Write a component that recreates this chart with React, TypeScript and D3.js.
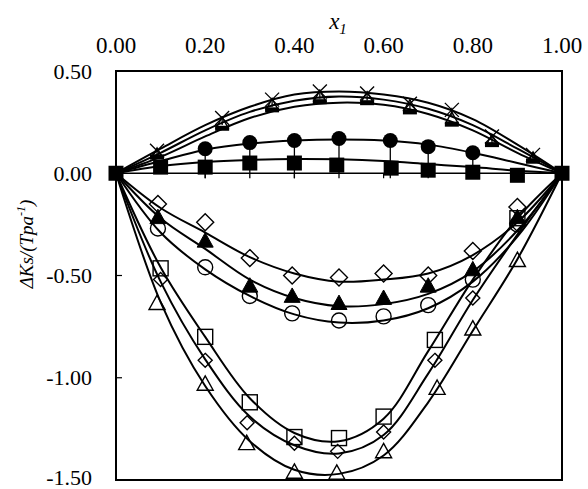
import React from "react";
import * as d3 from "d3";

const W = 588, H = 489;
const M = { left: 116, right: 562, top: 71, bottom: 480 };

const X_TICKS = [0, 0.2, 0.4, 0.6, 0.8, 1.0];
const Y_TICKS = [0.5, 0, -0.5, -1.0, -1.5];
const FIT_X = [0, 0.1, 0.2, 0.3, 0.4, 0.5, 0.6, 0.7, 0.8, 0.9, 1.0];

// Upper group (star, open triangle, dash)
const upX = [0.092, 0.238, 0.35, 0.457, 0.563, 0.659, 0.753, 0.843, 0.935];
const starY = [0.11, 0.27, 0.36, 0.40, 0.39, 0.34, 0.31, 0.18, 0.09];
const starFit = [0, 0.12, 0.235, 0.325, 0.385, 0.40, 0.385, 0.345, 0.265, 0.14, 0];
const triUpY = [0.095, 0.245, 0.335, 0.375, 0.37, 0.33, 0.27, 0.16, 0.075];
const triUpFit = [0, 0.10, 0.21, 0.30, 0.355, 0.375, 0.36, 0.315, 0.235, 0.12, 0];
const dashY = [0.08, 0.22, 0.31, 0.35, 0.345, 0.30, 0.24, 0.14, 0.06];
const dashFit = [0, 0.08, 0.18, 0.27, 0.325, 0.345, 0.335, 0.29, 0.21, 0.10, 0];

// Filled circles
const circX = [0.2, 0.3, 0.4, 0.5, 0.615, 0.7, 0.8];
const circY = [0.12, 0.15, 0.16, 0.17, 0.16, 0.13, 0.10];
const circFit = [0, 0.06, 0.115, 0.145, 0.16, 0.165, 0.16, 0.14, 0.10, 0.05, 0];

// Filled squares
const sqX = [0, 0.1, 0.2, 0.3, 0.4, 0.495, 0.617, 0.7, 0.8, 0.9, 1.0];
const sqY = [0, 0.03, 0.03, 0.05, 0.05, 0.04, 0.025, 0.015, 0.005, -0.01, 0];
const sqFit = [0, 0.035, 0.055, 0.065, 0.07, 0.068, 0.06, 0.045, 0.03, 0.012, 0];

// Lower group A
const loAX = [0.094, 0.2, 0.3, 0.395, 0.5, 0.6, 0.7, 0.8, 0.9];
const diaAY = [-0.15, -0.24, -0.415, -0.50, -0.51, -0.49, -0.50, -0.38, -0.165];
const diaAFit = [0, -0.17, -0.29, -0.41, -0.49, -0.53, -0.52, -0.49, -0.40, -0.24, 0];
const triFY = [-0.215, -0.33, -0.55, -0.60, -0.635, -0.61, -0.55, -0.47, -0.215];
const triFFit = [0, -0.22, -0.37, -0.52, -0.61, -0.65, -0.64, -0.59, -0.48, -0.28, 0];
const circOY = [-0.27, -0.46, -0.60, -0.685, -0.72, -0.70, -0.645, -0.52, -0.25];
const circOFit = [0, -0.29, -0.47, -0.60, -0.69, -0.73, -0.72, -0.66, -0.53, -0.31, 0];

// Lower group B
const sqOX = [0.1, 0.2, 0.3, 0.4, 0.5, 0.6, 0.715, 0.9];
const sqOY = [-0.465, -0.80, -1.12, -1.29, -1.295, -1.19, -0.815, -0.22];
const sqOFit = [0, -0.46, -0.80, -1.10, -1.27, -1.31, -1.20, -0.87, -0.52, -0.22, 0];
const diaBX = [0.1, 0.2, 0.294, 0.4, 0.497, 0.6, 0.715, 0.8, 0.9];
const diaBY = [-0.52, -0.915, -1.22, -1.32, -1.36, -1.265, -0.915, -0.61, -0.25];
const diaBFit = [0, -0.53, -0.91, -1.19, -1.33, -1.37, -1.28, -0.98, -0.62, -0.30, 0];
const triOX = [0.092, 0.2, 0.293, 0.4, 0.495, 0.6, 0.72, 0.8, 0.9];
const triOY = [-0.635, -1.03, -1.32, -1.46, -1.465, -1.36, -1.05, -0.76, -0.425];
const triOFit = [0, -0.63, -1.04, -1.31, -1.45, -1.47, -1.38, -1.12, -0.77, -0.42, 0];

type Shape = "star" | "triOpen" | "dash" | "circFill" | "sqFill" | "dia" | "triFill" | "circOpen" | "sqOpen" | "diaSmall";

interface Series { xs: number[]; ys: number[]; fit: number[]; shape: Shape; }

const SERIES: Series[] = [
  { xs: upX, ys: dashY, fit: dashFit, shape: "dash" },
  { xs: upX, ys: triUpY, fit: triUpFit, shape: "triOpen" },
  { xs: upX, ys: starY, fit: starFit, shape: "star" },
  { xs: loAX, ys: diaAY, fit: diaAFit, shape: "dia" },
  { xs: loAX, ys: triFY, fit: triFFit, shape: "triFill" },
  { xs: loAX, ys: circOY, fit: circOFit, shape: "circOpen" },
  { xs: sqOX, ys: sqOY, fit: sqOFit, shape: "sqOpen" },
  { xs: diaBX, ys: diaBY, fit: diaBFit, shape: "diaSmall" },
  { xs: triOX, ys: triOY, fit: triOFit, shape: "triOpen" },
  { xs: circX, ys: circY, fit: circFit, shape: "circFill" },
  { xs: sqX, ys: sqY, fit: sqFit, shape: "sqFill" },
];

const x = d3.scaleLinear().domain([0, 1]).range([M.left, M.right]);
const y = d3.scaleLinear().domain([-1.5, 0.5]).range([M.bottom, M.top]);

const line = d3.line<[number, number]>()
  .x((d) => x(d[0]))
  .y((d) => y(d[1]))
  .curve(d3.curveCatmullRom.alpha(0.5));

const fmt = (v: number) => d3.format(".2f")(v).replace("\u2212", "-");

function Marker({ shape, cx, cy, big }: { shape: Shape; cx: number; cy: number; big?: boolean }) {
  const sw = 1.4;
  switch (shape) {
    case "star": {
      const s = 7;
      return (
        <g stroke="#000" strokeWidth={1.3}>
          <line x1={cx - s} y1={cy - s} x2={cx + s} y2={cy + s} />
          <line x1={cx - s} y1={cy + s} x2={cx + s} y2={cy - s} />
          <line x1={cx} y1={cy - 2} x2={cx} y2={cy + s} />
        </g>
      );
    }
    case "triOpen": {
      const s = big ? 8 : 6;
      return <path d={`M${cx},${cy - s}L${cx + s},${cy + s * 0.8}L${cx - s},${cy + s * 0.8}Z`} fill="none" stroke="#000" strokeWidth={sw} />;
    }
    case "triFill": {
      const s = 8;
      return <path d={`M${cx},${cy - s}L${cx + s},${cy + s * 0.8}L${cx - s},${cy + s * 0.8}Z`} fill="#000" stroke="#000" strokeWidth={1} />;
    }
    case "dash":
      return <rect x={cx - 7} y={cy - 2.5} width={14} height={5} fill="#000" />;
    case "circFill":
      return <circle cx={cx} cy={cy} r={7.5} fill="#000" />;
    case "circOpen":
      return <circle cx={cx} cy={cy} r={7.5} fill="none" stroke="#000" strokeWidth={sw} />;
    case "sqFill":
      return <rect x={cx - 7.5} y={cy - 7.5} width={15} height={15} fill="#000" />;
    case "sqOpen":
      return <rect x={cx - 7.5} y={cy - 7.5} width={15} height={15} fill="none" stroke="#000" strokeWidth={sw} />;
    case "dia": {
      const s = 8.5;
      return <path d={`M${cx},${cy - s}L${cx + s},${cy}L${cx},${cy + s}L${cx - s},${cy}Z`} fill="none" stroke="#000" strokeWidth={sw} />;
    }
    case "diaSmall": {
      const s = 7;
      return <path d={`M${cx},${cy - s}L${cx + s},${cy}L${cx},${cy + s}L${cx - s},${cy}Z`} fill="none" stroke="#000" strokeWidth={sw} />;
    }
  }
  return null;
}

export default function App() {
  const font = "'Liberation Serif', 'Times New Roman', serif";
  return (
    <svg width={W} height={H} style={{ position: "absolute", left: 0, top: 0, background: "#fff" }} fontFamily={font}>
      <rect x={0} y={0} width={W} height={H} fill="#fff" />
      {/* zero line */}
      <line x1={x(0)} x2={x(1)} y1={y(0)} y2={y(0)} stroke="#000" strokeWidth={1.5} />
      {X_TICKS.map((t) => (
        <line key={"xt" + t} x1={x(t)} x2={x(t)} y1={y(0)} y2={y(0) + 5} stroke="#000" strokeWidth={1.2} />
      ))}
      {Y_TICKS.map((t) => (
        <line key={"yt" + t} x1={M.left} x2={M.left + 6} y1={y(t)} y2={y(t)} stroke="#000" strokeWidth={1.2} />
      ))}
      {/* circle drop lines */}
      {circX.map((cx, i) => (
        <line key={"dl" + i} x1={x(cx)} x2={x(cx)} y1={y(circY[i])} y2={y(0) + 5} stroke="#000" strokeWidth={1.3} />
      ))}
      {SERIES.map((s, si) => (
        <g key={"s" + si}>
          <path d={line(FIT_X.map((fx, i) => [fx, s.fit[i]] as [number, number])) || ""} fill="none" stroke="#000" strokeWidth={2} />
          {s.xs.map((px, i) => (
            <Marker key={i} shape={s.shape} cx={x(px)} cy={y(s.ys[i])} big={si === 8} />
          ))}
        </g>
      ))}
      {/* frame */}
      <rect x={M.left} y={M.top} width={M.right - M.left} height={M.bottom - M.top} fill="none" stroke="#000" strokeWidth={2} />
      {/* x tick labels on top */}
      {X_TICKS.map((t) => (
        <text key={"xl" + t} x={x(t)} y={53} textAnchor="middle" fontSize={23} fill="#000">
          {fmt(t)}
        </text>
      ))}
      {Y_TICKS.map((t) => (
        <text key={"yl" + t} x={92} y={Math.min(y(t), 477)} dy="0.35em" textAnchor="end" fontSize={22} fill="#000">
          {fmt(t)}
        </text>
      ))}
      <text x={338} y={29} textAnchor="middle" fontSize={23} fontStyle="italic" fill="#000">
        x<tspan fontSize={15} dy={5}>1</tspan>
      </text>
      <text transform={`translate(33,244) rotate(-90)`} textAnchor="middle" fontSize={19} fontStyle="italic" fill="#000">
        ΔKs/(Tpa<tspan fontSize={12} dy={-8}>-1</tspan><tspan dy={8}>)</tspan>
      </text>
    </svg>
  );
}
